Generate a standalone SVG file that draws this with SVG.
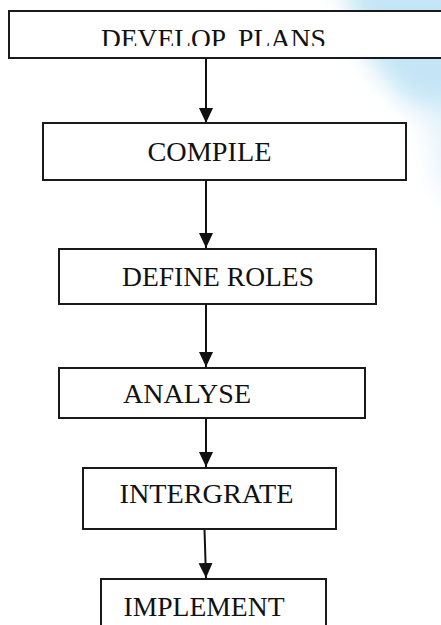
<svg xmlns="http://www.w3.org/2000/svg" width="441" height="625" viewBox="0 0 441 625">
  <defs>
    <style>
      .box { fill: #ffffff; stroke: #1a1a1a; stroke-width: 2; }
      .label { font-family: "Liberation Serif", "Times New Roman", serif; font-size: 27.5px; fill: #111111; }
      .link { fill: none; stroke: #111111; stroke-width: 2; }
    </style>
    <marker id="arrow" markerUnits="userSpaceOnUse" markerWidth="16" markerHeight="15" refX="15" refY="7" orient="auto">
      <path d="M0,0 L15,7 L0,14 Z" fill="#111111"/>
    </marker>
    <filter id="soft" x="-50%" y="-50%" width="200%" height="200%">
      <feGaussianBlur stdDeviation="12"/>
    </filter>
    <clipPath id="clipTop">
      <rect x="0" y="0" width="441" height="46"/>
    </clipPath>
  </defs>

  <!-- page background with pale blue wash in the upper right -->
  <rect x="0" y="0" width="441" height="625" fill="#ffffff"/>
  <g filter="url(#soft)">
    <path d="M340,-20 L470,-20 L470,150 L430,120 L400,95 L370,60 Z" fill="#c4e5f6"/>
    <path d="M420,100 L470,110 L470,210 L440,190 Z" fill="#e6f4fb"/>
  </g>

  <g id="connectors">
    <line class="link" x1="206" y1="58" x2="206" y2="123" marker-end="url(#arrow)"/>
    <line class="link" x1="206" y1="180" x2="206" y2="248" marker-end="url(#arrow)"/>
    <line class="link" x1="206" y1="304" x2="206" y2="367" marker-end="url(#arrow)"/>
    <line class="link" x1="206" y1="418" x2="206" y2="467" marker-end="url(#arrow)"/>
    <line class="link" x1="204.5" y1="529" x2="206" y2="578" marker-end="url(#arrow)"/>
  </g>

  <g id="develop-plans">
    <rect class="box" x="9" y="11" width="440" height="47"/>
    <g clip-path="url(#clipTop)">
      <text class="label" x="101" y="47.5" textLength="125" lengthAdjust="spacingAndGlyphs">DEVELOP</text>
      <text class="label" x="238" y="47.5" textLength="88" lengthAdjust="spacingAndGlyphs">PLANS</text>
    </g>
  </g>

  <g id="compile">
    <rect class="box" x="43" y="123" width="363" height="57"/>
    <text class="label" x="147.5" y="160.5" textLength="124" lengthAdjust="spacingAndGlyphs">COMPILE</text>
  </g>

  <g id="define-roles">
    <rect class="box" x="59" y="249" width="317" height="55"/>
    <text class="label" x="122" y="286" textLength="192" lengthAdjust="spacingAndGlyphs">DEFINE ROLES</text>
  </g>

  <g id="analyse">
    <rect class="box" x="59" y="368" width="306" height="50"/>
    <text class="label" x="123" y="403" textLength="128" lengthAdjust="spacingAndGlyphs">ANALYSE</text>
  </g>

  <g id="intergrate">
    <rect class="box" x="83" y="468" width="253" height="61"/>
    <text class="label" x="119.5" y="503" textLength="174" lengthAdjust="spacingAndGlyphs">INTERGRATE</text>
  </g>

  <g id="implement">
    <rect class="box" x="101" y="579" width="225" height="60"/>
    <text class="label" x="123.5" y="616" textLength="161" lengthAdjust="spacingAndGlyphs">IMPLEMENT</text>
  </g>
</svg>
